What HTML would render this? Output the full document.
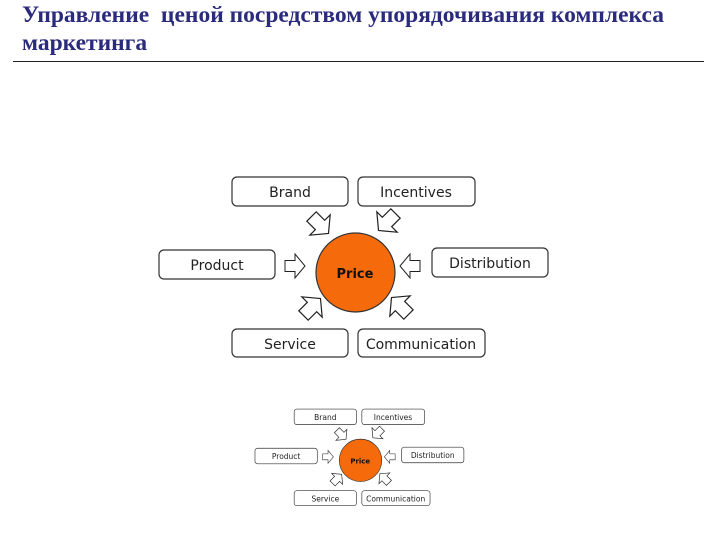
<!DOCTYPE html>
<html><head><meta charset="utf-8"><style>
html,body{margin:0;padding:0;background:#fff;}
body{width:720px;height:540px;overflow:hidden;position:relative;}
.t{position:absolute;left:22px;font-family:"Liberation Serif","Noto Serif CJK SC",serif;font-weight:bold;font-size:23.5px;color:#2b2b7e;white-space:nowrap;line-height:27px;}
</style></head><body>
<div class="t" style="top:2px">Управление&nbsp; ценой посредством упорядочивания комплекса</div>
<div class="t" style="top:30px">маркетинга</div>
<div style="position:absolute;left:13px;top:61px;width:691px;height:1px;background:#222"></div>
<svg width="720" height="540" style="position:absolute;left:0;top:0" font-family="'DejaVu Sans','Liberation Sans',sans-serif">
<defs>
<path id="ar" d="M-10,-5.5 L0,-5.5 L0,-12 L10,0 L0,12 L0,5.5 L-10,5.5 Z" fill="#fff" stroke="#222" stroke-width="1"/>
<g id="d">
<g fill="#fff" stroke="#333" stroke-width="1.2">
<rect x="232" y="177" width="116" height="29" rx="5"/>
<rect x="358" y="177" width="117" height="29" rx="5"/>
<rect x="159" y="250" width="116" height="29" rx="5"/>
<rect x="432" y="248" width="116" height="29" rx="5"/>
<rect x="232" y="329" width="116" height="28" rx="5"/>
<rect x="358" y="329" width="127" height="28" rx="5"/>
</g>
<g font-size="14" fill="#222" text-anchor="middle">
<text x="290" y="197">Brand</text>
<text x="416" y="197">Incentives</text>
<text x="217" y="270">Product</text>
<text x="490" y="268">Distribution</text>
<text x="290" y="349">Service</text>
<text x="421" y="349">Communication</text>
</g>
<circle cx="355.5" cy="272.5" r="39.5" fill="#f56a0a" stroke="#333" stroke-width="1.2"/>
<text x="355" y="278" font-size="13" font-weight="bold" text-anchor="middle" fill="#111">Price</text>
<use href="#ar" transform="translate(295,266)"/>
<use href="#ar" transform="translate(410,266) rotate(180)"/>
<use href="#ar" transform="translate(320,225) rotate(45) scale(1.2)"/>
<use href="#ar" transform="translate(387,222) rotate(135) scale(1.2)"/>
<use href="#ar" transform="translate(312,307) rotate(-45) scale(1.2)"/>
<use href="#ar" transform="translate(400,306) rotate(-135) scale(1.2)"/>
</g>
</defs>
<use href="#d"/>
<use href="#d" transform="translate(169.6,314) scale(0.537)"/>
</svg>
</body></html>
